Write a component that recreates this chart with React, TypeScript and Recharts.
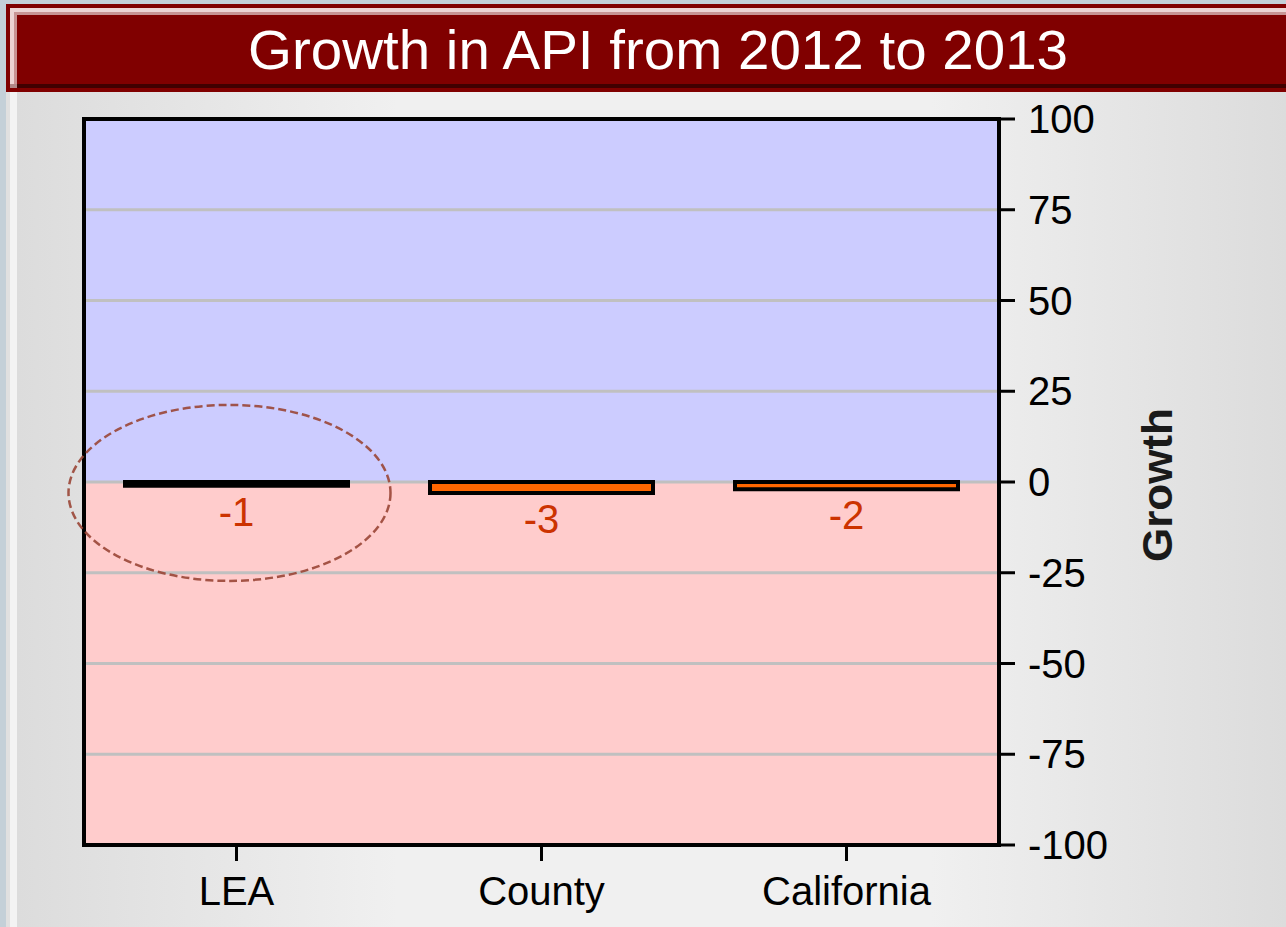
import React from 'react';
import { BarChart, Bar, XAxis, YAxis, CartesianGrid, ReferenceArea, ReferenceDot, LabelList } from 'recharts';

const categories: string[] = ['LEA', 'County', 'California'];
const growthValues: number[] = [-1, -3, -2];
const yTicks: number[] = [100, 75, 50, 25, 0, -25, -50, -75, -100];
const titleText = 'Growth in API from 2012 to 2013';
const yAxisTitle = 'Growth';
const highlightedCategory = 'LEA';

const data = categories.map((c, i) => ({ name: c, growth: growthValues[i] }));

const FONT = '"Liberation Sans", Arial, sans-serif';

const stripeFills = yTicks.slice(0, -1).map((t) => (t > 0 ? '#ccccff' : '#ffcccc'));

const ValueLabel = (props: any) => {
  const x = Number(props.x);
  const y = Number(props.y);
  const w = Number(props.width);
  const h = Number(props.height);
  const bottom = Math.max(y, y + h);
  return (
    <text
      x={x + w / 2}
      y={bottom + 40}
      textAnchor="middle"
      fill="#cc3300"
      fontSize={40}
      fontFamily={FONT}
    >
      {props.value}
    </text>
  );
};

const EllipseShape = (props: any) => {
  const cx = Number(props.cx);
  const cy = Number(props.cy);
  return (
    <ellipse
      cx={cx - 7}
      cy={cy}
      rx={161}
      ry={88}
      fill="none"
      stroke="#9a4636"
      strokeOpacity={0.9}
      strokeWidth={2.5}
      strokeDasharray="8 4"
    />
  );
};

const YTitle = (props: any) => {
  const vb = props.viewBox || {};
  const x = Number(vb.x) + 173;
  const y = Number(vb.y) + Number(vb.height) / 2 + 3;
  return (
    <text
      x={x}
      y={y}
      transform={`rotate(-90 ${x} ${y})`}
      textAnchor="middle"
      fontSize={42}
      fontWeight="bold"
      fill="#1a1a1a"
      fontFamily={FONT}
      textLength={154}
      lengthAdjust="spacingAndGlyphs"
    >
      {yAxisTitle}
    </text>
  );
};

export default function App() {
  return (
    <div style={{ position: 'absolute', left: 0, top: 0, width: 1286, height: 927, overflow: 'hidden', background: '#c4d0d8' }}>
      <div
        style={{
          position: 'absolute', left: 17, top: 92, width: 1269, height: 835,
          background: 'linear-gradient(to right, #dcdcdc 0%, #f0f0f0 30%, #f0f0f0 72%, #dcdcdc 100%)',
        }}
      />
      <div style={{ position: 'absolute', left: 6, top: 92, width: 4, height: 835, background: '#e0e0e0' }} />
      <div style={{ position: 'absolute', left: 10, top: 92, width: 7, height: 835, background: '#f3f3f3' }} />
      <div style={{ position: 'absolute', left: 6, top: 4, width: 1280, height: 88, background: '#800000' }} />
      <div style={{ position: 'absolute', left: 10, top: 8, width: 1276, height: 4, background: '#ecd4d4' }} />
      <div style={{ position: 'absolute', left: 10, top: 8, width: 4, height: 80, background: '#ecd4d4' }} />
      <div style={{ position: 'absolute', left: 14, top: 12, width: 1272, height: 3, background: '#c89494' }} />
      <div style={{ position: 'absolute', left: 14, top: 12, width: 3, height: 72, background: '#c89494' }} />
      <div style={{ position: 'absolute', left: 10, top: 84, width: 7, height: 4, background: '#b08888' }} />
      <div style={{ position: 'absolute', left: 17, top: 84, width: 1269, height: 4, background: '#400000' }} />
      <svg style={{ position: 'absolute', left: 0, top: 0 }} width={1286} height={92}>
        <text
          x={658}
          y={69}
          textAnchor="middle"
          fill="#ffffff"
          fontSize={56}
          fontFamily={FONT}
          textLength={820}
          lengthAdjust="spacingAndGlyphs"
        >
          {titleText}
        </text>
      </svg>
      <div style={{ position: 'absolute', left: 0, top: 0 }}>
        <BarChart
          width={1286}
          height={927}
          data={data}
          margin={{ top: 119, left: 84, right: 187, bottom: 22 }}
        >
          <CartesianGrid
            vertical={false}
            stroke="none"
            horizontalFill={stripeFills}
            fillOpacity={1}
          />
          <CartesianGrid
            vertical={false}
            stroke="#c0c0c0"
            strokeWidth={3}
          />
          <XAxis
            dataKey="name"
            height={60}
            axisLine={{ stroke: '#000', strokeWidth: 4 }}
            tickLine={{ stroke: '#000', strokeWidth: 3 }}
            tickSize={16}
            tickMargin={16}
            tick={{ fill: '#000', fontSize: 40, fontFamily: FONT }}
            interval={0}
          />
          <YAxis
            orientation="right"
            width={100}
            domain={[-100, 100]}
            ticks={yTicks}
            interval={0}
            allowDataOverflow
            axisLine={{ stroke: '#000', strokeWidth: 4 }}
            tickLine={{ stroke: '#000', strokeWidth: 3 }}
            tickSize={16}
            tickMargin={13}
            tick={{ fill: '#000', fontSize: 40, fontFamily: FONT, textAnchor: 'start' }}
            label={<YTitle />}
          />
          <ReferenceArea y1={-100} y2={100} fill="none" fillOpacity={0} stroke="#000" strokeWidth={4} />
          <Bar dataKey="growth" fill="#ff6600" stroke="#000" strokeWidth={4} barSize={223} isAnimationActive={false}>
            <LabelList dataKey="growth" content={<ValueLabel />} />
          </Bar>
          <ReferenceDot x={highlightedCategory} y={-3} r={1} shape={<EllipseShape />} />
        </BarChart>
      </div>
    </div>
  );
}
